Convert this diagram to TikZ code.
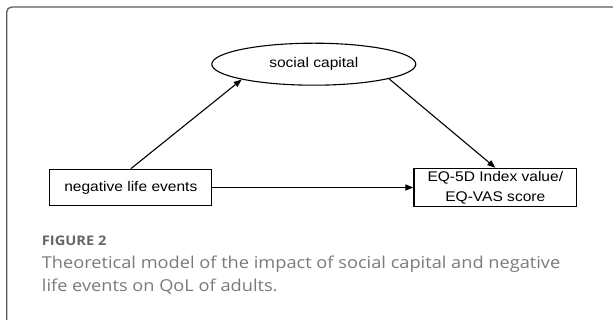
\documentclass[tikz,border=0pt]{standalone}
\usepackage{fontspec}
\setmainfont[FakeStretch=1.11]{Liberation Sans}
\newfontfamily\capfont[FakeStretch=1.11]{Open Sans}
\usetikzlibrary{arrows.meta,shapes.geometric}
\definecolor{capgray}{HTML}{7A7A7A}
\definecolor{figgray}{HTML}{666666}
\definecolor{framegray}{HTML}{5A5A5A}
\tikzset{
  varbox/.style={draw, line width=1.1pt, rectangle, inner sep=0pt, align=center,
    font=\fontsize{14}{20}\selectfont},
  varoval/.style={draw, line width=1.1pt, ellipse, inner sep=0pt,
    font=\fontsize{14}{20}\selectfont},
  effect/.style={-{Triangle[length=8pt,width=6pt]}, line width=1.1pt}
}

\begin{document}
\begin{tikzpicture}[x=1pt,y=1pt]
    \useasboundingbox (0,0) rectangle (613,320);

    % frame of the panel
    \draw[framegray, line width=1.3pt, rounded corners=5pt] (6.7,0) |- (613,313);

    % the three variables
    \node[varoval, minimum width=204pt, minimum height=42pt] (sc) at (313.8,255.8) {social capital};
    \node[varbox, minimum width=162pt, minimum height=36.4pt] (neg) at (130.8,132.5) {negative life events};
    \node[varbox, minimum width=162.7pt, minimum height=38.4pt] (qol) at (495.3,132.5) {EQ-5D Index value/\\EQ-VAS score};

    % paths of the model
    \draw[effect] (neg.north) -- (sc.192); % via social capital
    \draw[effect] (sc.349) -- (qol.north);
    \draw[effect] (neg) -- (qol); % direct path

    % caption
    \node[anchor=base west, inner sep=0pt, text=figgray, font=\capfont\bfseries\fontsize{13.2}{16}\selectfont] (fig) at (41.7,74.7) {FIGURE 2};
    \node[anchor=base west, inner sep=0pt, align=left, text=capgray, font=\capfont\fontsize{16.4}{22.5}\selectfont] (cap) at (41.7,28.5) {Theoretical model of the impact of social capital and negative\\life events on QoL of adults.};
\end{tikzpicture}
\end{document}
